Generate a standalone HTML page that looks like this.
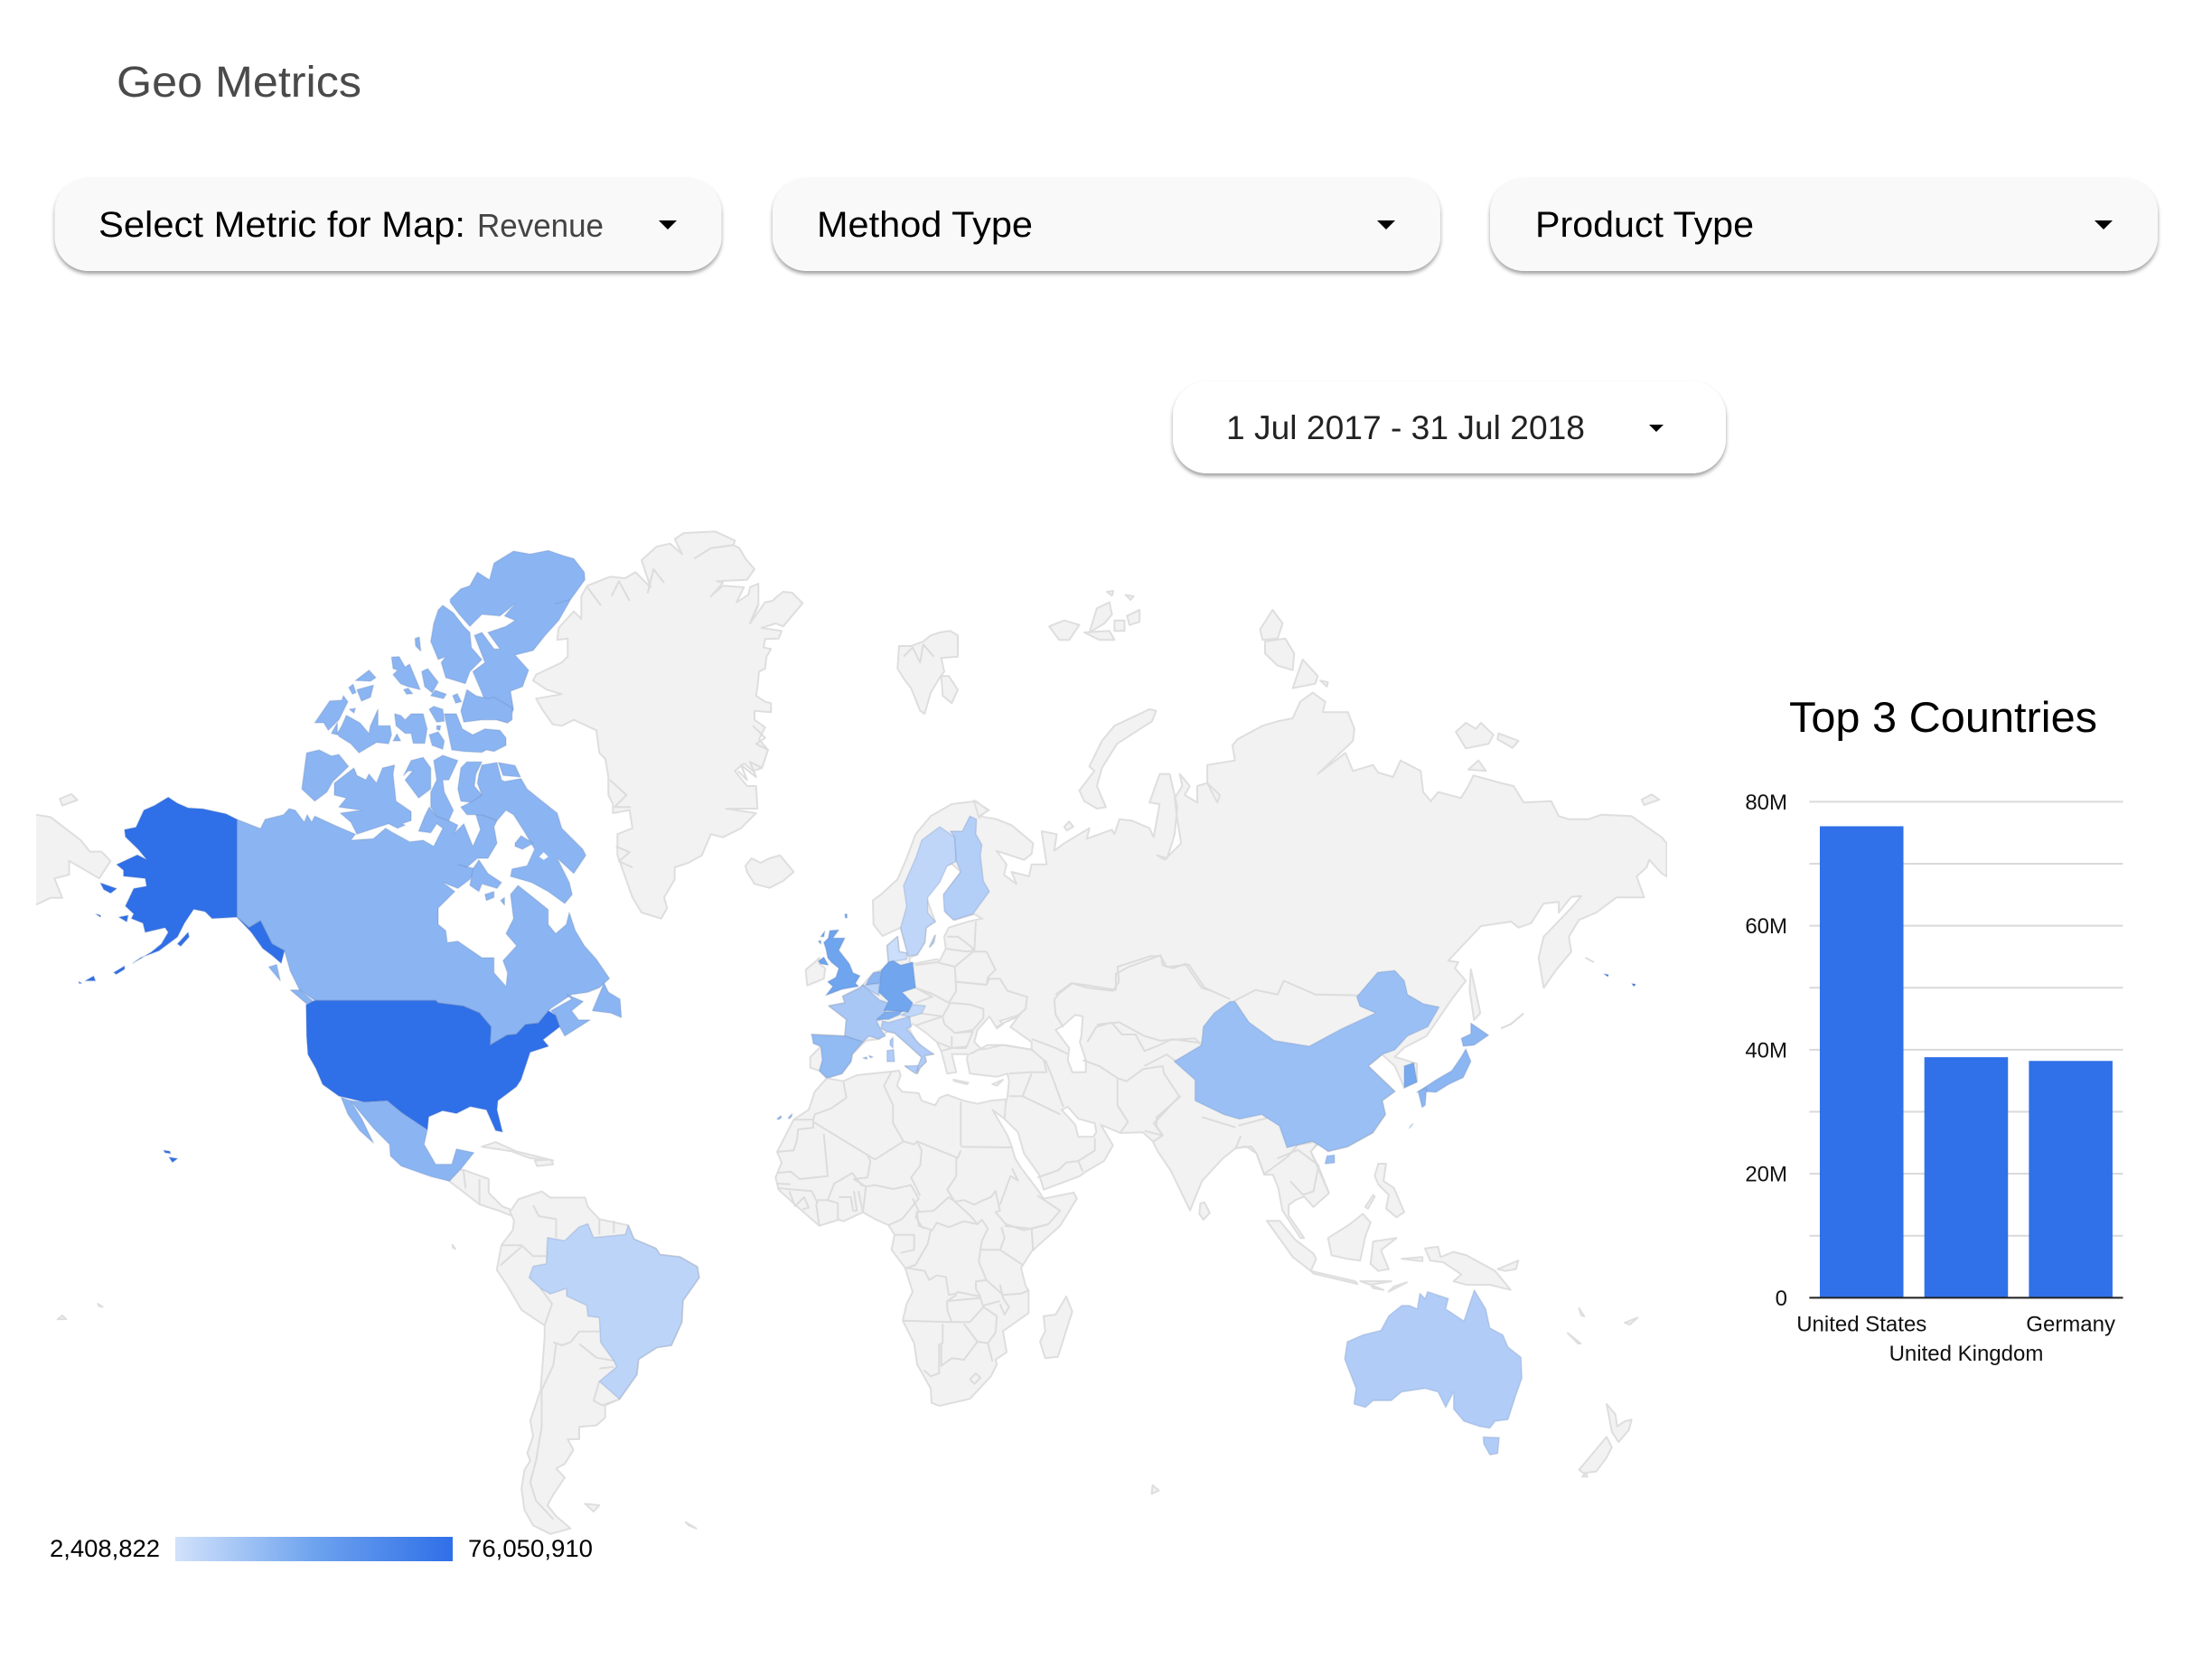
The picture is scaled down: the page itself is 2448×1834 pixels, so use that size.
<!DOCTYPE html>
<html lang="en">
<head>
<meta charset="utf-8">
<title>Geo Metrics</title>
<style>
html,body{margin:0;padding:0;background:#fff;width:2448px;height:1834px;overflow:hidden}
svg{display:block;font-family:"Liberation Sans",sans-serif}
</style>
</head>
<body>
<svg id="page" xmlns="http://www.w3.org/2000/svg" width="2448" height="1834" viewBox="0 0 2448 1834">
<defs>
<filter id="btnShadow" x="-5%" y="-10%" width="110%" height="125%">
<feDropShadow dx="0" dy="3" stdDeviation="2" flood-color="#000" flood-opacity=".38"/>
</filter>
<linearGradient id="legendGradient" x1="0" x2="1" y1="0" y2="0"></linearGradient>
<clipPath id="mapClip"><rect x="40" y="560" width="1805" height="1200"/></clipPath>
</defs>

<text x="129" y="107" font-size="48" fill="#4a4a4a" textLength="271" lengthAdjust="spacingAndGlyphs">Geo Metrics</text>

<g>
<rect x="60.5" y="197" width="738" height="103" rx="38" fill="#f9f9f9" filter="url(#btnShadow)"/>
<text x="109" y="262" font-size="40" fill="#000" textLength="406" lengthAdjust="spacingAndGlyphs">Select Metric for Map:</text>
<text x="528" y="262" font-size="36" fill="#444" textLength="140" lengthAdjust="spacingAndGlyphs">Revenue</text>
<polygon points="729,244 749,244 739,254" fill="#000"/>
</g>
<g>
<rect x="855" y="197" width="739" height="103" rx="38" fill="#f9f9f9" filter="url(#btnShadow)"/>
<text x="904" y="262" font-size="40" fill="#000" textLength="239" lengthAdjust="spacingAndGlyphs">Method Type</text>
<polygon points="1524,244 1544,244 1534,254" fill="#000"/>
</g>
<g>
<rect x="1649" y="197" width="739" height="103" rx="38" fill="#f9f9f9" filter="url(#btnShadow)"/>
<text x="1699" y="262" font-size="40" fill="#000" textLength="242" lengthAdjust="spacingAndGlyphs">Product Type</text>
<polygon points="2318,244 2338,244 2328,254" fill="#000"/>
</g>
<g>
<rect x="1298" y="422" width="612" height="102" rx="38" fill="#fff" filter="url(#btnShadow)"/>
<text x="1357" y="486" font-size="37" fill="#222" textLength="397" lengthAdjust="spacingAndGlyphs">1 Jul 2017 - 31 Jul 2018</text>
<polygon points="1825,470 1841,470 1833,478" fill="#000"/>
</g>

<g id="map" clip-path="url(#mapClip)"></g>

<g>
<text id="legendMin" x="55" y="1723" font-size="27" fill="#000" textLength="122" lengthAdjust="spacingAndGlyphs"></text>
<rect x="194" y="1701" width="307" height="27" fill="url(#legendGradient)"/>
<text id="legendMax" x="518" y="1723" font-size="27" fill="#000" textLength="138" lengthAdjust="spacingAndGlyphs"></text>
</g>

<text x="1980" y="810" font-size="47" fill="#000" textLength="341" lengthAdjust="spacingAndGlyphs">Top 3 Countries</text>
<g id="barChart"></g>
</svg>

<script>
/* ---------- map values ---------- */
const countryNames = ['United States','Canada','Mexico','United Kingdom','Germany','France','Spain','Italy','Netherlands','Belgium','Switzerland','Austria','Denmark','Sweden','Finland','China','Japan','South Korea','Australia','Brazil','Taiwan'];
const countryValues = [76050910,28500000,28500000,38800000,38200000,18000000,26000000,15000000,28000000,12000000,33000000,9000000,5000000,9400000,14000000,23000000,28000000,36000000,15000000,10500000,28000000];
const legendRange = [2408822,76050910];
const legendLabels = ['2,408,822','76,050,910'];
const scaleColors = ['#d2e2fb','#6ea3ee','#2f6fe8'];

/* ---------- bar chart values ---------- */
const barCategories = ['United States','United Kingdom','Germany'];
const barValues = [76050910,38800000,38200000];
const yTicks = [0,10000000,20000000,30000000,40000000,50000000,60000000,70000000,80000000];
const yTickLabels = ['0','','20M','','40M','','60M','','80M'];

/* ---------- colour scale ---------- */
function hexRgb(h){return [1,3,5].map(function(i){return parseInt(h.substr(i,2),16);});}
function colorScale(v){
  var t=(v-legendRange[0])/(legendRange[1]-legendRange[0]);
  t=Math.max(0,Math.min(1,t));
  var a,b,u;
  if(t<.5){a=hexRgb(scaleColors[0]);b=hexRgb(scaleColors[1]);u=t*2;}
  else{a=hexRgb(scaleColors[1]);b=hexRgb(scaleColors[2]);u=(t-.5)*2;}
  return 'rgb('+a.map(function(c,i){return Math.round(c+(b[i]-c)*u);}).join(',')+')';
}

/* ---------- map outline geometry (frame, points) ---------- */
const frames = {a:[0,560,.5102,.5102],c:[320,600,1/3,1/3],e:[800,560,.7015,.5102],s:[0,1300,.6378,.3406],o:[1000,1200,.5742,.3827],g:[560,570,1/3,1/3],n:[840,880,1/3,1/3],r:[1000,640,.5556,1/3]};

const greyShapes = [
['land-chukotka','a','78,670 110,675 175,725 195,750 220,750 240,770 215,808 185,790 150,770 150,800 118,808 135,850 110,850 78,865 30,880 30,670'],
['land-island','a','130,635 155,625 168,638 135,650'],
['land-greenland','g','590,60 695,55 760,85 755,100 775,110 795,145 825,180 800,215 700,220 720,225 680,270 720,235 790,240 765,290 805,265 810,240 838,228 838,300 810,360 860,290 885,285 895,275 920,255 950,258 985,293 920,370 895,360 848,375 915,385 905,410 860,412 855,440 880,445 865,470 860,510 840,520 835,570 830,600 860,620 880,625 880,655 825,650 825,680 860,705 840,745 870,780 850,840 820,850 790,825 760,850 800,900 830,900 835,975 790,975 730,975 830,990 780,1040 720,1070 680,1060 650,1130 605,1155 560,1170 560,1210 525,1270 535,1305 515,1340 450,1320 420,1270 395,1200 370,1130 370,1060 420,1040 410,980 355,990 355,960 340,930 340,870 330,810 310,790 300,715 225,680 185,700 155,695 120,645 100,610 185,595 135,580 90,550 100,530 185,490 205,470 205,410 170,415 175,375 225,320 250,345 250,270 270,235 345,205 395,210 430,190 480,240 450,150 500,105 545,95 585,130 560,80'],
['land-iceland','g','795,1165 815,1140 845,1155 875,1140 910,1130 955,1185 920,1215 875,1238 825,1225 800,1185'],
['land-svalbard','g','1305,435 1345,435 1385,420 1410,400 1440,390 1475,385 1500,400 1500,470 1445,475 1455,520 1440,540 1410,590 1390,660 1375,650 1345,575 1325,550 1300,510'],
['land-svalbard-east','g','1445,535 1470,535 1500,580 1480,625 1450,600'],
['land-novaya-zemlya','r','350,705 380,640 370,625 395,540 420,490 490,435 503,440 495,475 425,550 395,630 385,690 403,760 385,765 360,740'],
['land-franz-josef','r','290,160 320,140 350,155 330,205 310,205'],
['land-franz-josef','r','370,180 385,100 410,80 415,120 400,150'],
['land-franz-josef','r','360,180 410,175 420,205 390,205'],
['land-franz-josef','r','420,140 440,140 440,175 420,175'],
['land-franz-josef','r','445,125 470,105 470,145 450,155'],
['land-franz-josef','r','405,45 418,42 415,58'],
['land-franz-josef','r','442,55 458,60 452,72'],
['land-severnaya','r','710,170 735,105 755,150 745,200 715,205'],
['land-severnaya','r','720,210 760,200 778,250 775,305 745,290 720,250'],
['land-severnaya','r','775,365 795,270 825,325 820,350'],
['land-severnaya','r','830,340 845,345 843,360'],
['land-new-siberian','r','1100,510 1120,480 1140,500 1150,480 1175,520 1165,550 1120,565'],
['land-new-siberian','r','1185,515 1225,540 1213,563 1183,535'],
['land-new-siberian','r','1125,635 1145,605 1160,640'],
['land-wrangel','r','1470,735 1490,718 1505,735 1475,753'],
['land-kolguev','r','320,825 330,808 338,825 325,838'],
['land-eurasia',
 'r','140,738 170,770 150,790 185,800 215,820 258,880 255,915 240,935 185,905 205,950 200,985 225,1015 215,975 250,990 255,950 285,950 275,840 305,850 300,905 320,880 370,830 365,865 415,835 420,850 430,800 455,805 490,830 498,860 510,750 490,745 510,650 530,650 540,720 545,760 540,850 525,930 505,920 520,935 553,880 545,800 540,730 555,690 550,650 570,690 560,720 585,745 585,690 605,680 630,720 625,745 605,680 605,620 660,605 655,555 665,535 715,490 745,475 775,465 790,410 815,380 840,410 835,445 885,445 898,500 895,540 825,650 880,580 895,640 935,620 945,645 975,660 990,605 1030,640 1035,710 1050,740 1065,710 1110,730 1125,690 1135,655 1190,680 1215,690 1235,745 1290,740 1305,790 1325,800 1365,800 1390,785 1450,790 1510,860 1520,880 1520,990 1510,980 1485,935 1480,960 1460,990 1475,1060 1420,1060 1380,1110 1345,1135 1325,1190 1330,1240 1300,1300 1275,1360 1265,1260 1275,1190 1330,1095 1350,1055 1330,1058 1305,1110 1305,1075 1275,1080 1250,1145 1225,1160 1210,1140 1150,1155 1085,1270 1105,1275',
 'e','1155,1003 1172,1030 1150,1070 1130,1110 1110,1150 1075,1175 1060,1195 1095,1210 1095,1248 1075,1262 1060,1215 1040,1190 1018,1215 1060,1270 1040,1290 1045,1320 1025,1360 985,1390 955,1400 940,1382',
 'o','785,195 800,240 820,315 790,355 772,325 755,335 742,350 742,380 772,445 765,445 730,365 722,300 712,262 695,262 680,200 660,180 640,185 615,215 575,280 552,365 515,250 490,195 480,165',
 'n','1275,1120 1200,1122 1135,1095 1175,1163 1145,1215 1085,1250 1065,1265 945,1310 930,1260 880,1190 860,1120 810,1070 815,1040 825,1000 830,950 825,925 790,935 700,925 690,875 695,860 660,860 640,860 655,920 625,925 605,850 590,820 555,790 520,765 510,760 495,770 520,815 555,850 580,860 550,865 555,885 535,905 525,925 485,900 530,905 540,870 490,825 450,790 425,785 400,810 355,815 345,825 310,860 305,885 275,925 225,940 200,915 170,905 170,870 205,835 175,795 285,800 290,745 232,700 285,690 278,668 335,640 345,630 380,590 410,580 430,555 425,500 460,470 465,520 490,525 497,535 470,440 410,468 380,430 378,350 405,330 460,280 490,210 520,130 570,70 640,30 720,20 760,50 730,75'],
['land-ireland','n','155,580 185,555 200,540 200,560 220,575 215,610 160,632'],
['land-crete','n','645,945 695,955 690,960 650,950'],
['land-cyprus','n','775,960 810,945 790,965'],
['land-sakhalin','e','1180,1005 1195,1100 1185,1115 1178,1050'],
['land-sri-lanka','o','572,345 580,342 590,372 578,392 570,375'],
['land-sumatra','o','700,395 725,395 755,450 790,490 795,505 785,540 750,500'],
['land-java','o','785,540 870,570 875,578 790,548'],
['land-borneo','o','818,445 860,405 885,375 900,400 890,440 880,510 855,505 825,495'],
['land-sulawesi','o','905,455 950,445 920,480 935,535 915,540 900,520'],
['land-philippines','o','915,230 930,230 925,280 945,300 965,370 950,385 930,360 935,320 915,290 908,265'],
['land-palawan','o','890,355 905,320 908,325 895,360'],
['land-new-guinea','o','1005,475 1030,470 1035,500 1060,485 1085,495 1140,540 1170,595 1130,580 1110,580 1085,580 1060,570 1075,550 1040,515 1015,510'],
['land-island','o','880,570 940,570 900,580'],
['land-island','o','935,600 970,573 945,585'],
['land-island','o','900,580 925,595 905,590'],
['land-island','o','1145,535 1185,510 1180,535 1160,540'],
['land-island','o','960,505 1000,500 1000,512'],
['land-new-caledonia','o','1280,720 1305,750 1300,750'],
['land-fiji','o','1390,690 1415,675 1400,695'],
['land-vanuatu','o','1302,648 1312,672 1306,668'],
['land-new-zealand-north','o','1355,925 1372,955 1375,990 1390,975 1403,970 1398,1000 1378,1035 1365,1005'],
['land-new-zealand-south','o','1302,1115 1355,1020 1365,1050 1355,1080 1335,1120 1310,1125'],
['land-stewart','o','1308,1135 1315,1125 1318,1135'],
['land-kerguelen','o','478,1185 480,1160 492,1175'],
['land-africa','n','225,940 185,985 165,1045 115,1078 60,1185 75,1220 55,1270 65,1310 125,1365 200,1430 265,1410 280,1415 345,1385 385,1408 430,1428 450,1460 440,1510 485,1570 510,1650 490,1690 477,1745 515,1820 525,1890 570,1970 573,2018 598,2028 700,2005 770,1930 790,1890 785,1875 822,1850 810,1780 895,1720 895,1645 885,1630 870,1570 905,1515 1000,1430 1055,1340 1045,1320 945,1340 925,1310 868,1235 850,1205 840,1170 825,1130 775,1045 815,1075 820,1010 770,1015 725,1025 680,1015 625,995 600,1005 585,1030 540,1015 530,990 475,985 458,965 470,930 465,915 440,918 325,930 280,950'],
['land-madagascar','n','1020,1665 1040,1715 992,1865 950,1870 933,1815 950,1780 945,1730 985,1725'],
['land-cuba','a','1045,1390 1075,1380 1120,1400 1200,1420 1150,1415 1110,1400'],
['land-hispaniola','a','1160,1420 1195,1418 1200,1428 1165,1432'],
['land-central-america','a','975,1465 985,1440 1005,1440 1060,1460 1060,1490 1090,1520 1105,1525 1110,1540 1085,1530 1040,1515'],
['land-south-america','s','885,120 900,80 940,55 955,75 1015,75 1020,105 1040,145 1090,165 1100,210 1138,240 1145,260 1180,268 1210,300 1213,335 1185,410 1183,480 1165,555 1140,562 1108,600 1105,650 1075,730 1050,750 1050,790 1035,815 1005,820 1005,860 985,860 995,895 980,940 965,955 980,985 960,1040 950,1075 965,1110 990,1150 955,1168 925,1140 910,1090 905,1020 910,960 920,930 915,905 925,850 920,800 938,700 945,530 945,490 905,440 880,360 862,310 870,230 890,180 892,150'],
['land-falklands','s','1015,1070 1040,1075 1030,1095'],
['land-south-georgia','s','1190,1130 1208,1150 1195,1140'],
['land-pacific-island','s','100,470 115,470 108,458'],
['land-pacific-island','s','170,420 178,430 172,428'],
['land-galapagos','s','785,228 790,242 786,238']
];

const seaShapes = [
['sea-baltic','n','500,540 525,530 550,490 555,440 585,420 555,340 620,235 640,228 670,255 615,330 620,390 650,415 715,395 740,410 695,420 630,440 615,470 620,510 600,550 590,545 540,555 515,560 500,555'],
['sea-black','n','715,820 725,780 765,735 790,775 810,760 800,750 865,730 835,770 905,820 905,845 810,830 740,845'],
['sea-caspian','n','1010,765 1050,730 1075,735 1070,800 1065,820 1085,880 1085,920 1040,920 1025,880 1030,840 985,780'],
['sea-persian-gulf','n','1005,1045 1025,1035 1060,1075 1115,1090 1120,1120 1110,1135 1060,1135 1050,1095'],
['sea-gotland-gap','n','566,505 585,465 580,490']
];

const borderLines = [
['n','280,950 290,1005 240,1040 185,1060 180,1078 115,1078'],
['n','180,1078 180,1105 130,1110 125,1150 115,1180 60,1185'],
['n','180,1085 360,1195 370,1215'],
['n','215,1125 228,1265 135,1275 105,1250 60,1255'],
['n','440,918 415,965 445,1030 445,1090 480,1150'],
['n','670,1018 670,1165'],
['n','360,1195 385,1210 480,1150 515,1160 525,1150 660,1205 670,1180'],
['n','670,1168 840,1170'],
['n','525,1150 540,1180 535,1230 505,1270 535,1330'],
['n','655,1205 655,1265 625,1310 650,1350'],
['n','370,1215 360,1270 315,1275 355,1300 385,1295 445,1308 505,1295 530,1340 475,1408 430,1428'],
['n','355,1300 345,1385'],
['n','510,1340 530,1380 520,1400 545,1440'],
['n','228,1345 250,1290 310,1255 340,1295 355,1300'],
['n','520,1385 580,1380 630,1335 650,1350 700,1395 725,1425 740,1410 760,1440'],
['n','525,1390 530,1430 575,1445 590,1420 630,1435 680,1415 725,1425'],
['n','650,1350 680,1345 715,1360 745,1345 770,1335 785,1315 800,1380 785,1385 820,1425'],
['n','840,1240 860,1280 835,1265 800,1360'],
['n','925,1330 940,1340 1000,1380 960,1425 880,1445 820,1425'],
['n','760,1440 740,1480 735,1510 800,1510 815,1470 805,1435'],
['n','815,1430 905,1440 910,1515'],
['n','800,1510 875,1560'],
['n','905,1440 960,1425'],
['n','735,1510 730,1550 755,1610 810,1660 870,1655 895,1645'],
['n','570,1445 560,1490 520,1560 490,1570 550,1580 565,1610 590,1595 620,1600 630,1660 655,1655 660,1650 735,1665 720,1640 720,1615 755,1610'],
['n','477,1745 640,1750 625,1710 625,1680 655,1660'],
['n','625,1680 735,1670 745,1700 700,1750 640,1750'],
['n','745,1695 800,1680'],
['n','800,1625 810,1670 830,1700 815,1725 800,1690'],
['n','680,1755 725,1815 760,1820 785,1785 790,1730 745,1700'],
['n','610,1755 610,1820 598,1825 598,1920 570,1930 548,1910'],
['n','605,1825 605,1895 640,1870 680,1875 725,1815'],
['n','760,1820 775,1880'],
['n','700,1940 720,1920 735,1935 715,1955 700,1940'],
['n','450,1460 515,1460 515,1510 470,1520'],
['n','60,1290 105,1292'],
['n','60,1305 175,1315 195,1355'],
['n','100,1315 120,1365 150,1335 165,1370 145,1375'],
['n','195,1345 190,1360 200,1430'],
['n','195,1345 228,1345 262,1355 262,1410'],
['n','265,1335 305,1335 312,1380 325,1380 315,1315'],
['n','330,1315 345,1385'],
['n','620,510 690,520 715,515'],
['n','625,470 660,470 700,500 715,515 720,420'],
['n','650,570 710,520 755,520 785,580 760,605 755,630 660,620'],
['n','520,565 590,555 650,570 655,650 630,690 575,660 520,640'],
['n','655,620 755,630 765,610 800,610 825,650 890,670 885,710 850,740 815,755 790,770'],
['n','635,690 700,695 745,710 745,740 710,780 650,790 615,760 610,735 635,690'],
['n','520,640 575,670 520,690'],
['n','540,725 610,735'],
['n','650,790 710,785 690,835 640,840 640,800'],
['n','520,765 580,745 610,735'],
['n','590,820 640,840'],
['n','605,850 640,840 690,840'],
['n','700,860 760,830 815,830 905,845 945,880 955,920 900,920 830,925'],
['n','905,810 985,840 1025,860'],
['n','1010,770 985,730 980,680 995,660 1040,625 1090,640 1175,650 1195,620 1190,570 1300,535 1335,535 1340,565 1375,575 1415,560 1470,640 1500,650'],
['n','1090,820 1120,770 1170,755 1205,795 1250,795 1280,850 1330,830 1370,810 1480,825'],
['n','950,880 975,940 1010,1035'],
['n','1075,880 1130,900 1190,940 1190,1030 1225,1085 1200,1120'],
['n','1190,940 1220,950 1275,910 1340,900 1345,925 1395,1000 1330,1070 1310,1090 1340,1130 1280,1115'],
['n','1400,1000 1320,1070 1320,1100 1340,1130 1310,1150'],
['n','830,1000 875,1000 1000,1060'],
['n','875,1000 905,925'],
['n','925,1270 995,1245 1020,1220 1060,1215 1075,1250'],
['n','1060,1215 1115,1180 1115,1140'],
['e','525,1060 550,1035 575,1040 620,1050 620,1015 640,1000 690,975 700,1000 735,995 760,1045 800,1070'],
['e','805,1075 840,1050 875,1060 885,1030 935,1060 1005,1062'],
['e','590,1125 625,1120 665,1150 690,1160 745,1155 755,1170'],
['e','665,1215 700,1190 715,1205'],
['o','645,120 720,90 730,130 760,175 740,210 695,260 680,200 670,180 640,185 650,150'],
['o','720,215 760,190 800,235 790,310 770,320 745,280'],
['o','760,175 800,165 785,195 820,315'],
['o','575,95 640,125'],
['s','925,100 935,135 965,145 965,205'],
['s','1040,145 1040,195'],
['s','1065,150 1065,190'],
['s','870,230 905,230 925,265 948,265'],
['s','868,295 905,235'],
['s','945,490 958,420 938,370'],
['s','960,545 975,555 990,545 1005,510 1040,510'],
['s','1005,550 1035,595 1065,605'],
['s','1040,630 1065,625'],
['s','965,550 960,620 940,700 940,820 930,930 920,1000 930,1060 960,1120'],
['s','1040,672 1030,735 1045,750 1075,730'],
['a','1005,1440 1010,1480'],
['a','1040,1460 1040,1515'],
['g','270,240 315,300'],
['g','350,270 375,220 410,285'],
['g','470,260 490,180 525,225'],
['g','625,145 680,110 755,100'],
['g','810,360 835,300'],
['g','770,850 800,880 780,830 830,870 810,820 850,840'],
['g','820,700 860,740 830,760 870,780'],
['g','365,1100 410,1120 375,1150 420,1170'],
['g','345,880 400,930 360,970 415,970'],
['g','1320,470 1350,440 1375,490 1385,430 1420,470'],
['r','1235,1445 1210,1480 1190,1495'],
['r','1358,1260 1375,1275']
];

const countryShapes = [
['country-canada','Canada',
 'a','514,680 565,700 575,680 615,670',
 'c','0,885 20,890 50,930 60,905 75,930 85,910 150,940 220,970 205,990 280,985 320,950 345,965 400,995 445,990 480,1010 510,950 490,935 470,965 430,960 450,910 465,880 490,910 530,925 560,940 550,965 580,935 610,1010 635,955 620,905 640,905 690,925 680,945 690,1000 660,1050 625,1050 590,1080 560,1070 620,1085 600,1120 560,1150 510,1130 550,1160 495,1215 495,1270 520,1290 525,1330 560,1325 640,1380 680,1380 680,1430 720,1475 725,1430 710,1390 755,1340 720,1300 745,1250 735,1170 760,1140 810,1180 860,1220 860,1270 885,1300 920,1270 930,1230 950,1290 980,1340 1020,1385',
 'a','1322,1025 1300,1045 1275,1055 1240,1060 1195,1090 1190,1095 1168,1122 1140,1125 1120,1146 1100,1148 1063,1170 1065,1130 1040,1100 1005,1085 950,1078 945,1073 683,1073 650,1050 630,1010 617,965 590,950 565,900 540,915 514,892'],
['country-canada-ellesmere','Canada','c','535,190 570,155 600,145 625,100 665,125 680,70 720,45 745,30 800,40 860,28 910,45 945,55 980,100 982,125 935,190 885,205 935,190 895,260 850,310 810,360 750,375 795,425 775,480 735,495 745,555 725,600 690,590 665,570 640,500 610,430 650,400 615,310 640,300 680,355 700,355 660,300 720,280 750,260 715,245 750,205 700,245 640,240 600,280 565,240 535,200'],
['country-canada-axel-heiberg','Canada','c','510,210 545,235 580,280 600,300 605,350 640,390 600,430 585,470 520,450 505,400 520,380 495,390 470,330 480,270 495,225'],
['country-canada-devon','Canada','c','590,490 620,510 660,520 680,515 740,550 740,590 725,600 690,590 640,590 580,598 570,560'],
['country-canada-island','Canada','c','418,320 432,315 437,362 420,345'],
['country-canada-island','Canada','c','340,382 365,380 385,415 400,405 435,490 395,480 370,470 345,440 360,425 345,420'],
['country-canada-island','Canada','c','440,430 460,420 495,465 475,500 450,480'],
['country-canada-island','Canada','c','220,460 265,425 288,450 270,462'],
['country-canada-island','Canada','c','198,483 212,472 222,500 210,505'],
['country-canada-island','Canada','c','225,490 280,475 270,515 240,528'],
['country-canada-island','Canada','c','380,490 395,485 410,503 390,505'],
['country-canada-island','Canada','c','470,510 485,492 522,505 512,520'],
['country-canada-island','Canada','c','543,510 558,503 572,530 553,535'],
['country-canada-bathurst','Canada','c','465,555 480,545 510,555 515,595 490,598'],
['country-canada-somerset','Canada','c','515,570 555,570 575,620 610,640 650,620 700,625 720,650 720,675 680,695 655,690 640,698 580,695 540,690'],
['country-canada-island','Canada','c','465,640 495,630 515,660 510,688 475,675'],
['country-canada-island','Canada','c','490,610 503,610 500,625 490,622'],
['country-canada-melville','Canada','c','350,570 370,575 385,590 405,570 445,570 458,620 450,668 412,668 405,635 385,635 355,610'],
['country-canada-banks','Canada','c','85,600 135,527 175,525 180,510 195,530 165,590 130,625 115,600'],
['country-canada-island','Canada','c','140,635 160,600 160,640'],
['country-canada-island','Canada','c','200,555 220,552 215,568'],
['country-canada-island','Canada','c','345,660 358,637 370,660'],
['country-canada-prince-patrick','Canada','c','160,635 175,610 190,575 235,600 265,635 270,610 295,555 295,610 335,610 340,640 330,670 290,665 232,700 205,670 165,645'],
['country-canada-victoria','Canada','c','58,700 100,690 140,710 165,705 197,745 145,795 125,830 85,860 42,820'],
['country-canada-victoria-east','Canada','c','150,800 215,750 225,775 255,790 265,770 290,800 310,750 350,740 345,770 355,860 405,895 405,925 375,935 385,940 360,950 330,935 225,970 205,930 170,900 240,890 165,880 190,850 150,840'],
['country-canada-prince-of-wales','Canada','c','380,775 405,725 445,715 470,750 470,820 430,850 385,790 410,760 395,760'],
['country-canada-boothia','Canada','c','480,725 510,708 560,725 530,790 510,790 515,830 545,890 530,925 490,910 470,880 470,830 490,790'],
['country-canada-brodeur','Canada','c','560,820 570,750 590,730 640,730 620,770 615,810 640,840 610,865 570,860'],
['country-canada-bylot','Canada','c','695,732 750,742 768,780 710,775'],
['country-canada-baffin','Canada','c','640,740 690,732 705,790 715,795 770,785 790,820 840,860 890,900 905,950 975,1020 985,1040 945,1100 890,1050 930,1130 940,1170 915,1200 860,1160 805,1130 735,1110 740,1085 790,1075 815,1020 780,960 745,905 720,890 690,925 640,905 590,905 570,880 610,860 640,840 625,800 630,770'],
['country-canada-southampton','Canada','c','610,1085 630,1055 660,1100 705,1130 690,1150 640,1135 630,1160 600,1140'],
['country-canada-island','Canada','c','650,1170 680,1160 680,1180 655,1190'],
['country-canada-island','Canada','c','702,1190 715,1180 715,1205'],
['country-canada-foxe-island','Canada','c','750,1000 770,975 810,1000 775,1020 750,1010'],
['country-canada-newfoundland','Canada','a','1285,1095 1310,1035 1320,1055 1345,1070 1348,1110 1325,1100'],
['country-canada-maritimes','Canada','a','1195,1095 1240,1070 1230,1060 1265,1075 1240,1095 1255,1115 1280,1115 1225,1150 1214,1130 1205,1105'],
['country-canada-vancouver','Canada','a','630,1050 650,1050 680,1075 665,1080'],
['country-canada-haida-gwaii','Canada','a','583,1000 600,995 608,1030'],
['country-usa-alaska','United States','a','514,680 490,668 440,657 408,655 385,645 365,632 335,650 312,660 295,697 270,702 272,718 300,745 318,767 298,757 253,778 268,790 268,803 315,808 318,825 290,830 272,868 290,885 285,895 310,905 315,925 358,915 365,925 350,950 328,968 288,992 305,980 345,965 385,935 400,905 420,875 445,880 460,895 514,892 540,915 565,900 590,950 617,965 610,992 590,975 570,960 545,925 514,892'],
['country-usa-kodiak','United States','a','385,950 408,925 410,935 392,955'],
['country-usa-island','United States','a','218,818 253,830 240,840 225,832'],
['country-usa-island','United States','a','258,892 278,888 275,902'],
['country-usa-island','United States','a','208,885 218,888 218,892'],
['country-usa-aleutian','United States','a','247,1012 270,998 270,1005 252,1016'],
['country-usa-aleutian','United States','a','185,1030 203,1020 207,1030'],
['country-usa-aleutian','United States','a','171,1032 177,1035 172,1036'],
['country-usa-hawaii','United States','a','355,1398 368,1400 370,1405 358,1403'],
['country-usa-hawaii','United States','a','367,1413 385,1416 374,1424'],
['country-usa-contiguous','United States','a','664,1082 683,1073 945,1073 950,1078 1005,1085 1040,1100 1065,1130 1063,1170 1100,1148 1120,1146 1140,1125 1168,1122 1190,1095 1205,1105 1214,1130 1178,1158 1190,1172 1150,1185 1130,1245 1120,1260 1080,1290 1078,1310 1090,1358 1075,1355 1055,1310 1020,1303 990,1318 960,1312 930,1325 927,1353 905,1345 870,1315 840,1290 790,1293 735,1280 700,1255 685,1220 668,1190 665,1150'],
['country-usa-pacific-island','United States','e','1390,1015 1397,1017 1396,1021'],
['country-usa-pacific-island','United States','e','1434,1036 1440,1038 1437,1042'],
['country-mexico','Mexico','a','760,1290 790,1293 840,1290 870,1315 927,1353 920,1385 945,1428 980,1428 990,1395 1028,1403 1000,1438 975,1465 935,1455 870,1432 847,1410 845,1385 810,1350'],
['country-mexico-baja','Mexico','a','740,1283 760,1290 785,1330 810,1382 780,1355 755,1320'],
['country-uk','United Kingdom','n','235,450 265,448 245,475 285,475 265,515 300,560 312,590 335,600 320,625 330,635 275,645 222,665 245,635 228,620 255,605 265,575 240,555 228,540 222,510 215,490 230,475'],
['country-uk-northern-ireland','United Kingdom','n','197,552 215,538 230,565 205,560'],
['country-uk-hebrides','United Kingdom','n','205,470 218,452 215,470'],
['country-uk-hebrides','United Kingdom','n','197,485 205,483 205,495'],
['country-uk-shetland','United Kingdom','n','285,395 292,395 292,408 287,408'],
['country-france','France','n','232,700 285,690 278,668 335,640 345,630 400,680 430,690 410,745 390,750 405,780 420,800 395,810 365,800 345,820 285,800 290,745'],
['country-spain','Spain','n','175,795 285,800 345,820 310,860 305,885 275,925 225,940 200,915 210,880 205,835 180,825'],
['country-spain-balearic','Spain','n','345,873 358,870 358,877'],
['country-spain-balearic','Spain','n','365,865 378,870 370,872'],
['country-spain-canaries','Spain','n','60,1075 72,1065 75,1070 65,1078'],
['country-spain-canaries','Spain','n','97,1072 110,1058 108,1068 100,1075'],
['country-italy','Italy','n','410,750 430,755 500,735 505,770 490,775 530,825 580,860 550,865 555,885 535,905 525,925 525,905 540,870 490,825 450,790 425,785 405,775'],
['country-italy-sardinia','Italy','n','425,848 447,845 450,885 425,885'],
['country-italy-corsica','Italy','n','435,815 445,805 445,840 435,830'],
['country-italy-sicily','Italy','n','485,900 530,898 520,925 505,915'],
['country-netherlands','Netherlands','n','380,590 410,585 400,625 355,630 365,610'],
['country-belgium','Belgium','n','345,632 400,625 398,665 370,650'],
['country-austria','Austria','n','495,720 510,695 553,700 540,725 500,737 470,730'],
['country-denmark','Denmark','n','425,500 460,470 465,520 490,525 490,545 430,555'],
['country-sweden','Sweden','n','600,105 650,140 655,220 625,235 600,290 560,340 560,390 585,420 555,440 550,490 525,530 495,535 470,440 490,370 480,300 520,210 540,150'],
['country-sweden-gotland','Sweden','n','566,505 585,465 580,490'],
['country-finland','Finland','n','700,70 722,80 720,130 740,165 735,200 745,285 765,320 710,395 645,415 615,385 612,330 670,255 655,220 650,140 635,120 675,120'],
['country-germany','Germany','n','430,555 445,550 470,565 510,555 520,640 475,655 510,690 495,720 415,715 430,685 398,655 407,580'],
['country-switzerland','Switzerland','n','390,745 420,720 475,718 465,730 430,745 410,745'],
['country-china','China','e','800,1075 808,1075 830,1120 870,1160 925,1172 975,1135 1030,1100 1005,1085 1000,1065 1033,1012 1060,1008 1075,1030 1080,1060 1105,1080 1130,1087 1112,1130 1080,1150 1060,1180 1040,1190 1018,1215 1060,1270 1040,1290 1045,1320 1025,1360 985,1390 955,1400 930,1378 890,1392 878,1345 850,1320 815,1330 790,1320 745,1290 745,1245 712,1205 755,1170 758,1130 775,1100'],
['country-china-hainan','China','e','953,1410 965,1408 965,1425 950,1427'],
['country-taiwan','Taiwan','e','1085,1345 1089,1340 1083,1350'],
['country-south-korea','South Korea','e','1075,1215 1090,1208 1095,1250 1075,1262'],
['country-japan-hokkaido','Japan','e','1180,1122 1208,1148 1185,1170 1168,1172 1165,1155 1180,1145'],
['country-japan-honshu','Japan','e','1172,1178 1180,1205 1168,1240 1145,1255 1125,1272 1105,1270 1095,1272 1125,1245 1150,1225 1165,1195'],
['country-japan-kyushu','Japan','e','1097,1270 1110,1262 1108,1300 1103,1305'],
['country-australia','Australia','o','855,745 885,725 920,712 935,670 960,640 975,640 990,650 995,605 1005,620 1010,600 1050,620 1045,650 1080,685 1100,595 1122,650 1130,705 1155,725 1165,760 1190,790 1192,850 1180,900 1165,970 1140,975 1130,995 1110,990 1080,975 1060,940 1060,890 1045,935 1030,890 1005,880 960,890 940,915 905,915 890,935 868,925 872,880 850,795'],
['country-australia-tasmania','Australia','o','1117,1020 1148,1022 1145,1068 1130,1072 1118,1040'],
['country-brazil','Brazil','s','950,205 980,215 1005,170 1020,160 1030,205 1085,195 1090,165 1100,210 1138,240 1145,260 1180,268 1210,300 1213,335 1185,410 1183,480 1165,555 1140,562 1108,600 1105,650 1075,730 1040,672 1070,625 1065,605 1042,545 1040,465 1020,460 1018,425 983,395 983,370 955,388 938,370 918,335 925,298 948,290']
];

const lakeShapes = [
['lake-on-baffin','c','830,1045 845,1030 860,1045 845,1055'],
['inlet-in-quebec','c','875,1240 885,1232 888,1245']
];

/* ---------- map drawing ---------- */
var SVGNS='http://www.w3.org/2000/svg';
function toPath(parts,closed){
  var out=[];
  for(var i=0;i<parts.length;i+=2){
    var f=frames[parts[i]];
    parts[i+1].trim().split(/\s+/).forEach(function(p){
      var xy=p.split(',');
      out.push((f[0]+xy[0]*f[2]).toFixed(1)+' '+(f[1]+xy[1]*f[3]).toFixed(1));
    });
  }
  return 'M'+out.join('L')+(closed?'Z':'');
}
function valueFor(name){return countryValues[countryNames.indexOf(name)];}
var mapGroup=document.getElementById('map');

greyShapes.forEach(function(item){
  var el=document.createElementNS(SVGNS,'path');
  el.setAttribute('d',toPath(item.slice(1),true));
  el.setAttribute('fill','#f2f2f2');
  el.setAttribute('stroke','#dedede');
  el.setAttribute('stroke-width','2');
  el.setAttribute('stroke-linejoin','round');
  
  
  mapGroup.appendChild(el);
});
seaShapes.forEach(function(item){
  var el=document.createElementNS(SVGNS,'path');
  el.setAttribute('d',toPath(item.slice(1),true));
  el.setAttribute('fill','#ffffff');
  el.setAttribute('stroke','#dedede');
  el.setAttribute('stroke-width','2');
  
  
  mapGroup.appendChild(el);
});
borderLines.forEach(function(item){
  var el=document.createElementNS(SVGNS,'path');
  el.setAttribute('d',toPath(item,false));
  el.setAttribute('fill','none');
  el.setAttribute('stroke','#dcdcdc');
  el.setAttribute('stroke-width','2');
  el.setAttribute('stroke-linejoin','round');
  
  
  mapGroup.appendChild(el);
});
countryShapes.forEach(function(item){
  var el=document.createElementNS(SVGNS,'path');
  el.setAttribute('d',toPath(item.slice(2),true));
  el.setAttribute('fill',colorScale(valueFor(item[1])));
  el.setAttribute('stroke','rgba(90,120,170,.22)');
  el.setAttribute('stroke-width','1.5');
  el.setAttribute('stroke-linejoin','round');
  
  
  mapGroup.appendChild(el);
});
lakeShapes.forEach(function(item){
  var el=document.createElementNS(SVGNS,'path');
  el.setAttribute('d',toPath(item.slice(1),true));
  el.setAttribute('fill','#ffffff');
  
  
  mapGroup.appendChild(el);
});

/* ---------- legend ---------- */
document.getElementById('legendMin').textContent=legendLabels[0];
document.getElementById('legendMax').textContent=legendLabels[1];
var grad=document.getElementById('legendGradient');
[0,.5,1].forEach(function(o,i){
  var st=document.createElementNS(SVGNS,'stop');
  st.setAttribute('offset',o);
  st.setAttribute('stop-color',scaleColors[i]);
  grad.appendChild(st);
});

/* ---------- bar chart ---------- */
var plot={left:2002.4,right:2349.5,top:887.4,bottom:1436.4};
var yDomainMax=yTicks[yTicks.length-1];
function yScale(v){return plot.bottom-(v/yDomainMax)*(plot.bottom-plot.top);}
function bandX(i){return plot.left+(plot.right-plot.left)*(i+.5)/barCategories.length;}
var bandWidth=(plot.right-plot.left)/barCategories.length*0.8;
var chart=document.getElementById('barChart');

yTicks.forEach(function(t,i){
  var ln=document.createElementNS(SVGNS,'line');
  ln.setAttribute('x1',plot.left);
  ln.setAttribute('x2',plot.right);
  ln.setAttribute('y1',yScale(t));
  ln.setAttribute('y2',yScale(t));
  ln.setAttribute('stroke','#d9d9d9');
  ln.setAttribute('stroke-width','2');
  
  
  chart.appendChild(ln);
  if(yTickLabels[i]){
    var tx=document.createElementNS(SVGNS,'text');
    tx.setAttribute('x',1978);
    tx.setAttribute('y',yScale(t)+8.5);
    tx.setAttribute('text-anchor','end');
    tx.setAttribute('font-size','24');
    tx.setAttribute('fill','#111');
    tx.textContent=yTickLabels[i];
    
    
    chart.appendChild(tx);
  }
});
barCategories.forEach(function(c,i){
  var r=document.createElementNS(SVGNS,'rect');
  r.setAttribute('x',bandX(i)-bandWidth/2);
  r.setAttribute('width',bandWidth);
  r.setAttribute('y',yScale(barValues[i]));
  r.setAttribute('height',plot.bottom-yScale(barValues[i]));
  r.setAttribute('fill','#3070e8');
  
  
  chart.appendChild(r);
  var tx=document.createElementNS(SVGNS,'text');
  tx.setAttribute('x',bandX(i));
  tx.setAttribute('y',i%2?1506:1473.7);
  tx.setAttribute('text-anchor','middle');
  tx.setAttribute('font-size','24');
  tx.setAttribute('fill','#111');
  tx.textContent=c;
  
  
  chart.appendChild(tx);
});
var axis=document.createElementNS(SVGNS,'line');
axis.setAttribute('x1',plot.left);
axis.setAttribute('x2',plot.right);
axis.setAttribute('y1',plot.bottom);
axis.setAttribute('y2',plot.bottom);
axis.setAttribute('stroke','#222');
axis.setAttribute('stroke-width','2');


chart.appendChild(axis);
</script>
</body>
</html>
